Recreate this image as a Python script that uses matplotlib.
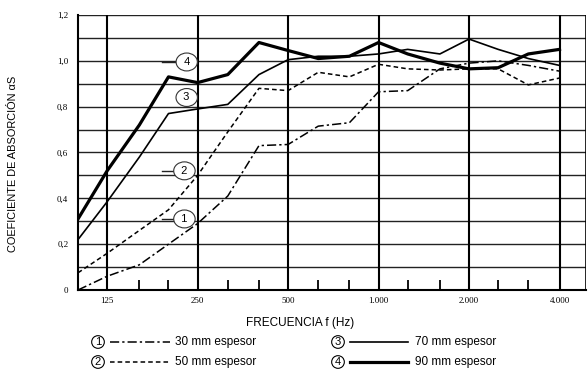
import matplotlib
matplotlib.use("Agg")
import matplotlib.pyplot as plt
from matplotlib.lines import Line2D

# ---- data ----
freqs = [100, 125, 160, 200, 250, 315, 400, 500, 630, 800, 1000, 1250, 1600, 2000, 2500, 3150, 4000]
mm30 = [0.00, 0.06, 0.11, 0.20, 0.29, 0.41, 0.63, 0.635, 0.715, 0.73, 0.865, 0.87, 0.965, 0.99, 1.00, 0.98, 0.955]
mm50 = [0.075, 0.16, 0.26, 0.35, 0.50, 0.69, 0.88, 0.87, 0.95, 0.93, 0.985, 0.965, 0.96, 0.965, 0.965, 0.895, 0.925]
mm70 = [0.22, 0.385, 0.58, 0.77, 0.79, 0.81, 0.94, 1.005, 1.02, 1.02, 1.03, 1.05, 1.03, 1.095, 1.05, 1.01, 0.98]
mm90 = [0.31, 0.52, 0.72, 0.93, 0.905, 0.94, 1.08, 1.045, 1.01, 1.02, 1.08, 1.03, 0.99, 0.965, 0.97, 1.03, 1.05]

major_x = [125, 250, 500, 1000, 2000, 4000]
major_labels = ["125", "250", "500", "1.000", "2.000", "4.000"]
minor_x = [160, 200, 315, 400, 630, 800, 1250, 1600, 2500, 3150]
y_ticks = [0, 0.2, 0.4, 0.6, 0.8, 1.0, 1.2]
y_labels = ["0", "0,2", "0,4", "0,6", "0,8", "1,0", "1,2"]
legend_labels = ["30 mm espesor", "50 mm espesor", "70 mm espesor", "90 mm espesor"]
curve_numbers = ["1", "2", "3", "4"]

W, H = 588, 372
fig = plt.figure(figsize=(W / 100, H / 100), dpi=100)
fig.patch.set_facecolor("white")

left, right, top, bottom = 78, 586, 15, 290
ax = fig.add_axes([left / W, 1 - bottom / H, (right - left) / W, (bottom - top) / H])
ax.set_xscale("log")
ax.set_xlim(100, 4900)
ax.set_ylim(0, 1.2)

# horizontal grid every 0.1
for k in range(1, 13):
    ax.axhline(k * 0.1, color="#222222", lw=1.0, zorder=1)
for xv in major_x:
    ax.axvline(xv, color="black", lw=1.5, zorder=1)
ax.axvline(4900, color="black", lw=1.2, zorder=1)

for s in ["top", "right"]:
    ax.spines[s].set_visible(False)
ax.spines["left"].set_linewidth(1.5)
ax.spines["bottom"].set_linewidth(1.5)

ax.set_xticks(major_x)
ax.set_xticklabels(major_labels)
ax.set_xticks(minor_x, minor=True)
ax.xaxis.set_minor_formatter(plt.NullFormatter())
ax.tick_params(axis="x", which="major", length=0, pad=5, labelsize=6.5)
ax.tick_params(axis="x", which="minor", direction="in", length=7, width=1.3, color="black")
ax.set_yticks(y_ticks)
ax.set_yticklabels(y_labels)
ax.tick_params(axis="y", length=0, pad=7, labelsize=6.5)
for lab in ax.get_xticklabels() + ax.get_yticklabels():
    lab.set_family("Liberation Serif")

# curves
ax.plot(freqs, mm30, color="black", lw=1.1, dashes=(6, 2, 1.5, 2), zorder=3)
ax.plot(freqs, mm50, color="black", lw=1.1, dashes=(3, 2), zorder=3)
ax.plot(freqs, mm70, color="black", lw=1.2, zorder=3)
ax.plot(freqs, mm90, color="black", lw=2.3, zorder=3)

# circled labels on curves with short leader lines
label_pos = [(226, 0.31), (226, 0.52), (230, 0.84), (230, 0.995)]
leader = [True, True, False, True]
for m, (fx, fy), ld in zip(curve_numbers, label_pos, leader):
    if ld:
        ax.plot([190, 215], [fy, fy], color="#222222", lw=1.0, zorder=2)
    ax.text(fx, fy, " " + m + " ", ha="center", va="center", fontsize=8, family="Liberation Sans",
            bbox=dict(boxstyle="ellipse,pad=0.12", fc="white", ec="#333333", lw=0.8), zorder=4)

# axis titles
sans = ["Liberation Sans", "DejaVu Sans"]
fig.text(13 / W, 1 - 164 / H, "COEFICIENTE DE ABSORCIÓN αS", rotation=90,
         ha="center", va="center", fontsize=7.9, family=sans)
fig.text(300 / W, 1 - 323 / H, "FRECUENCIA f (Hz)", ha="center", va="center",
         fontsize=8.5, family=sans)

# legend (manual)
rows = [(98, 342, 110, 170, 175), (98, 362, 110, 170, 175),
        (338, 342, 350, 408, 415), (338, 362, 350, 408, 415)]
styles = [dict(lw=1.1, dashes=(6, 2, 1.5, 2)), dict(lw=1.1, dashes=(3, 2)),
          dict(lw=1.2), dict(lw=2.3)]
for (cx, cy, x0, x1, tx), st, lab, n in zip(rows, styles, legend_labels, curve_numbers):
    fig.text(cx / W, 1 - cy / H, n, ha="center", va="center", fontsize=8, family="Liberation Sans",
             bbox=dict(boxstyle="circle,pad=0.12", fc="white", ec="black", lw=0.8))
    fig.add_artist(Line2D([x0 / W, x1 / W], [1 - cy / H, 1 - cy / H], color="black",
                          transform=fig.transFigure, **st))
    fig.text(tx / W, 1 - cy / H, lab, ha="left", va="center", fontsize=8.5, family="Liberation Sans")

fig.savefig("out.png", dpi=100, facecolor="white")
